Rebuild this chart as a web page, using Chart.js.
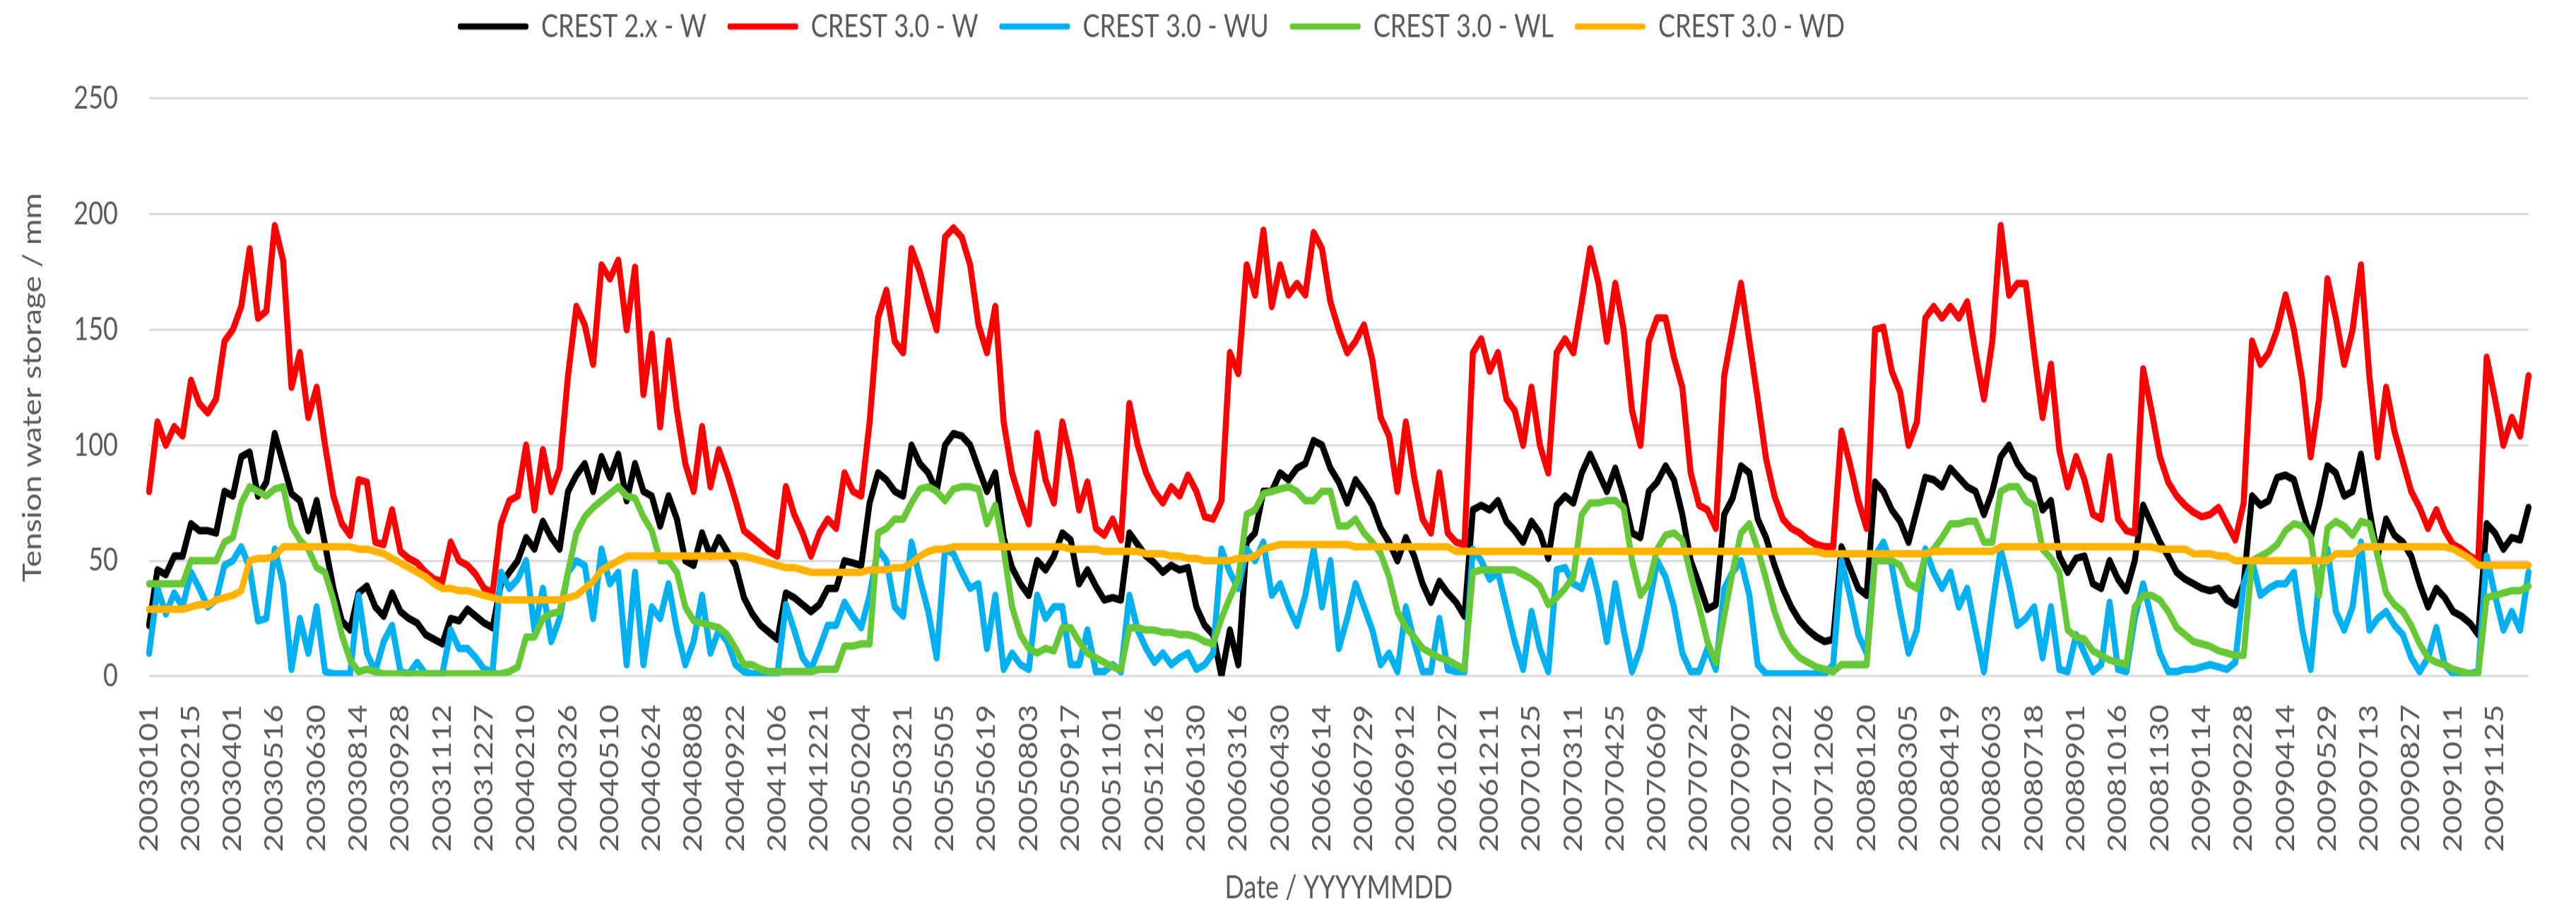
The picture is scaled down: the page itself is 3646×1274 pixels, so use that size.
<!DOCTYPE html>
<html>
<head>
<meta charset="utf-8">
<script src="https://cdn.jsdelivr.net/npm/chart.js@4.4.1/dist/chart.umd.min.js"></script>
<style>
html,body{margin:0;padding:0;background:#ffffff;overflow:hidden;}
#page{width:3646px;height:1274px;position:relative;overflow:hidden;}
/* the reference chart is vertically stretched; draw at 3646x1019 and stretch to 1274 */
#wrap{width:3646px;height:1019px;position:absolute;left:0;top:0;transform:scaleY(1.25025);transform-origin:0 0;}
</style>
</head>
<body>
<div id="page"><div id="wrap"><canvas id="c"></canvas></div></div>
<script>
const startYear = 2003;
const stepDays = 9;
const tickEvery = 5; // one date label every 45 days

const seriesNames = ['CREST 2.x - W', 'CREST 3.0 - W', 'CREST 3.0 - WU', 'CREST 3.0 - WL', 'CREST 3.0 - WD'];
const seriesColors = ['#000000', '#FF0000', '#00B0F0', '#66C837', '#FFB300'];

const crest2W = [
22,46,44,52,52,66,63,63,62,80,78,95,97,78,84,105,92,79,76,63,76,57,38,24,20,36,39,30,26,36,28,25,23,18,16,14,
25,24,29,26,23,21,40,45,50,60,55,67,60,55,80,87,92,80,95,86,96,76,92,80,78,65,78,68,50,48,62,52,60,54,48,34,
27,22,19,16,36,34,31,28,31,38,38,50,49,48,75,88,85,80,78,100,92,88,80,100,105,104,100,90,80,88,60,47,40,35,50,46,
52,62,59,40,46,39,33,34,33,62,57,52,49,45,48,46,47,30,22,18,0,20,5,58,62,80,80,88,85,90,92,102,100,90,84,75,
85,80,74,64,58,50,60,52,40,32,41,36,32,26,72,74,72,76,67,63,58,67,62,51,74,78,75,88,96,88,80,90,78,62,60,80,
84,91,85,70,50,40,29,31,70,77,91,88,68,60,48,38,30,24,20,17,15,16,56,47,38,35,84,80,72,67,58,72,86,85,82,90,
86,82,80,70,80,95,100,92,87,85,72,76,52,45,51,52,40,38,50,42,37,50,74,66,58,52,45,42,40,38,37,38,33,31,40,78,
74,76,86,87,85,72,60,74,91,88,78,80,96,72,52,68,61,58,52,40,30,38,34,28,26,23,18,66,62,55,60,59,73];

const crest3W = [
80,110,100,108,104,128,118,114,120,145,150,160,185,155,158,195,180,125,140,112,125,100,78,66,61,85,84,58,57,72,54,51,49,45,42,41,
58,50,48,44,38,36,66,76,78,100,72,98,80,90,130,160,152,135,178,172,180,150,177,122,148,108,145,115,92,80,108,82,98,88,76,63,
60,57,54,52,82,70,62,52,62,68,64,88,80,78,110,155,167,145,140,185,175,162,150,190,194,190,178,152,140,160,110,88,76,66,105,85,
75,110,94,72,84,64,61,68,59,118,100,88,80,75,82,78,87,80,69,68,76,140,131,178,165,193,160,178,165,170,165,192,185,162,150,140,
145,152,137,112,104,80,110,86,68,62,88,62,58,57,140,146,132,140,120,115,100,125,100,88,140,146,140,162,185,170,145,170,150,115,100,145,
155,155,138,125,88,74,72,64,130,150,170,145,120,94,78,68,64,62,59,57,56,56,106,92,76,64,150,151,132,123,100,110,155,160,155,160,
155,162,140,120,145,195,165,170,170,140,112,135,98,82,95,85,70,68,95,68,63,62,133,115,95,84,78,74,71,69,70,73,66,59,75,145,
135,140,150,165,150,128,95,120,172,155,135,150,178,130,95,125,106,93,80,73,64,72,63,57,55,52,50,138,120,100,112,104,130];

const crest3WU = [
10,38,27,36,30,45,38,30,33,48,50,56,47,24,25,55,40,3,25,10,30,2,1,1,1,35,10,2,15,22,2,1,6,1,1,1,
20,12,12,8,3,2,45,38,42,50,20,38,15,25,45,50,48,25,55,40,45,5,45,5,30,25,40,20,5,15,35,10,20,15,5,2,
1,1,1,1,31,20,8,3,12,22,22,32,26,21,35,55,50,30,26,58,42,28,8,55,53,45,38,40,12,35,3,10,5,3,35,25,
30,30,5,5,20,2,2,5,2,35,20,12,6,10,5,8,10,3,5,10,55,45,38,55,50,58,35,40,30,22,35,55,30,50,12,25,
40,30,20,5,10,2,30,15,2,2,25,3,2,2,55,50,42,45,30,15,3,28,12,2,46,47,40,38,50,35,15,40,20,2,12,30,
50,43,30,10,2,2,12,3,38,45,50,35,5,1,1,1,1,1,1,1,1,5,50,35,18,10,52,58,48,28,10,20,55,45,38,45,
30,38,20,2,30,55,40,22,25,30,8,30,3,2,18,10,2,5,32,3,2,25,40,25,10,2,2,3,3,4,5,4,3,6,40,50,
35,38,40,40,45,20,3,42,55,28,20,30,58,20,25,28,22,18,8,2,8,21,5,1,1,1,2,52,35,20,28,20,45];

const crest3WL = [
40,40,40,40,40,50,50,50,50,58,60,75,82,80,78,81,82,65,59,55,47,45,33,18,7,2,3,2,1,1,1,1,1,1,1,1,
1,1,1,1,1,1,1,2,4,17,17,25,27,28,45,62,69,73,76,79,82,78,77,69,63,50,50,45,30,24,23,22,21,18,12,5,
5,3,2,2,2,2,2,2,3,3,3,13,13,14,14,62,64,68,68,75,81,82,80,76,81,82,82,81,66,74,55,30,18,12,10,12,
11,21,21,15,10,8,6,4,3,21,21,20,20,19,19,18,18,17,15,14,25,34,42,70,72,79,80,81,82,80,76,76,80,80,65,65,
68,62,58,53,43,28,21,17,12,10,8,7,5,3,45,46,46,46,46,46,44,42,39,31,34,38,43,70,75,75,76,76,73,50,35,40,
55,61,62,59,44,30,15,6,26,45,62,66,55,42,28,18,12,8,6,4,3,2,5,5,5,5,50,50,50,48,40,38,52,55,60,66,
66,67,67,58,58,80,82,82,76,74,55,51,45,20,17,16,11,9,7,6,5,30,35,35,33,28,21,18,15,14,13,11,10,9,9,50,
52,54,57,63,66,65,60,35,64,67,65,61,67,66,52,36,31,28,22,14,8,6,5,3,2,1,1,34,35,36,37,37,39];

const crest3WD = [
29,29,29,29,29,30,31,31,33,34,35,37,50,51,51,52,56,56,56,56,56,56,56,56,56,55,55,54,53,51,49,47,45,43,40,38,
38,37,37,36,35,34,33,33,33,33,33,33,33,33,34,35,38,41,46,48,50,52,52,52,52,52,52,52,52,52,52,52,52,52,52,52,
51,50,49,48,47,47,46,45,45,45,45,45,45,45,46,46,46,47,47,49,52,54,55,55,56,56,56,56,56,56,56,56,56,56,56,56,
56,56,55,55,55,55,54,54,54,54,54,53,53,53,52,52,51,51,50,50,50,50,51,51,52,55,56,57,57,57,57,57,57,57,57,57,
56,56,56,56,56,56,56,56,56,56,56,56,54,54,54,54,54,54,54,54,54,54,54,54,54,54,54,54,54,54,54,54,54,54,54,54,
54,54,54,54,54,54,54,54,54,54,54,54,54,54,54,54,54,54,54,54,53,53,53,53,53,53,53,53,53,53,53,53,53,54,54,54,
54,54,54,54,54,56,56,56,56,56,56,56,56,56,56,56,56,56,56,56,56,56,56,56,55,55,55,55,53,53,53,52,52,50,50,50,
50,50,50,50,50,50,50,50,50,53,53,53,56,56,56,56,56,56,56,56,56,56,56,55,53,51,48,48,48,48,48,48,48];

const yTicks = {min: 0, max: 250, step: 50};

// categories: one date (YYYYMMDD) per sample
const categories = crest2W.map((_, i) => {
  const d = new Date(Date.UTC(startYear, 0, 1) + i * stepDays * 86400000);
  const mm = String(d.getUTCMonth() + 1).padStart(2, '0');
  const dd = String(d.getUTCDate()).padStart(2, '0');
  return String(d.getUTCFullYear()) + mm + dd;
});

const seriesValues = [crest2W, crest3W, crest3WU, crest3WL, crest3WD];

// ---- chart ----
const FONT = 'Lato, "Open Sans", "Liberation Sans", sans-serif';
const TEXT = '#595959';
const FS = 36;
const LEGEND_GAP = 30;
const LEGEND_SHIFT = -176;

const datasets = seriesNames.map((name, k) => ({
  label: name,
  data: seriesValues[k],
  borderColor: seriesColors[k],
  backgroundColor: seriesColors[k],
  borderWidth: 8.5,
  pointRadius: 0,
  tension: 0,
  fill: false,
  borderJoinStyle: 'round',
  borderCapStyle: 'round',
  order: seriesNames.length - k
}));

const legendShift = {
  id: 'legendShift',
  afterLayout(chart) {
    if (chart.legend) {
      chart.legend.left += LEGEND_SHIFT;
      chart.legend.right += LEGEND_SHIFT;
    }
  }
};

new Chart(document.getElementById('c').getContext('2d'), {
  type: 'line',
  data: { labels: categories, datasets: datasets },
  plugins: [legendShift],
  options: {
    responsive: true,
    maintainAspectRatio: false,
    devicePixelRatio: 1,
    animation: false,
    events: [],
    layout: { padding: { top: -18, right: 35, bottom: 0, left: 0 } },
    plugins: {
      legend: {
        position: 'top',
        weight: 3000,
        labels: {
          sort: (a, b) => a.datasetIndex - b.datasetIndex,
          font: { family: FONT, size: FS },
          color: TEXT,
          boxWidth: 100,
          boxHeight: 7,
          padding: LEGEND_GAP,
          useBorderRadius: true,
          borderRadius: 3,
          generateLabels: (chart) => Chart.defaults.plugins.legend.labels.generateLabels(chart)
            .map(it => Object.assign(it, { lineWidth: 0, fillStyle: it.strokeStyle }))
        }
      },
      title: {
        display: true,
        text: '',
        weight: 2000,
        font: { size: 10 },
        padding: { top: 41.6, bottom: 0 }
      },
      tooltip: { enabled: false }
    },
    scales: {
      x: {
        type: 'category',
        grid: { display: false },
        border: { display: false },
        ticks: {
          autoSkip: false,
          minRotation: 90,
          maxRotation: 90,
          padding: 24,
          color: TEXT,
          font: { family: FONT, size: FS },
          callback: (v, i) => (i % tickEvery === 0 ? categories[i] : '')
        },
        title: {
          display: true,
          text: 'Date / YYYYMMDD',
          color: TEXT,
          font: { family: FONT, size: FS },
          padding: { top: 0, bottom: -8 }
        },
        afterFit: (s) => { s.height = 253.4; }
      },
      y: {
        min: yTicks.min,
        max: yTicks.max,
        ticks: { stepSize: yTicks.step, padding: 44, color: TEXT, font: { family: FONT, size: FS } },
        grid: { color: '#D9D9D9', lineWidth: 2.5, drawTicks: false },
        border: { display: false },
        title: {
          display: true,
          text: 'Tension water storage / mm',
          color: TEXT,
          font: { family: FONT, size: FS },
          padding: { top: 25, bottom: 0 }
        },
        afterFit: (s) => { s.width = 211; }
      }
    }
  }
});
</script>
</body>
</html>
